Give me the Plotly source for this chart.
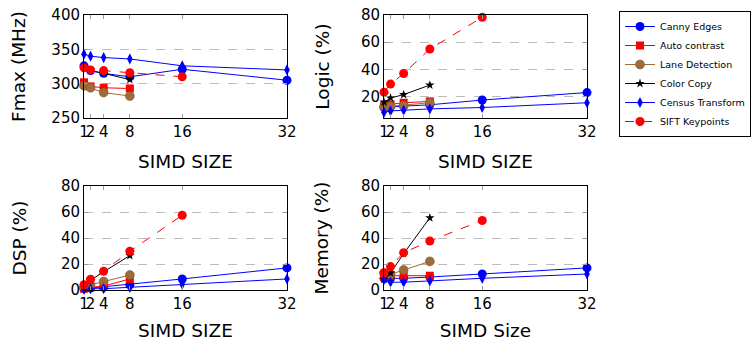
import plotly.graph_objects as go

simd = [1, 2, 4, 8, 16, 32]
simd8 = [1, 2, 4, 8]
simd16 = [1, 2, 4, 8, 16]

names = ["Canny Edges", "Auto contrast", "Lane Detection", "Color Copy", "Census Transform", "SIFT Keypoints"]

# Fmax (MHz)
fmax_canny = [326, 319, 315, 310, 321, 305]
fmax_auto = [302, 296, 294, 293]
fmax_lane = [297, 294, 287, 282]
fmax_color = [325, 319, 315, 306]
fmax_census = [343, 340, 338, 336, 326, 320]
fmax_sift = [323, 320, 319, 316, 310]

# Logic (%)
logic_canny = [12, 12.5, 13, 14, 17.5, 23]
logic_auto = [13, 14.3, 15.5, 16.5]
logic_lane = [12.5, 13, 13.5, 15.5]
logic_color = [16, 19, 21.5, 28.5]
logic_census = [8.5, 9.5, 10, 11, 12, 15.5]
logic_sift = [23.3, 29.2, 37, 55, 78.3]

# DSP (%)
dsp_canny = [1, 1.5, 2, 4, 8.5, 17]
dsp_auto = [1, 2, 3, 8.5]
dsp_lane = [2, 4, 6.5, 11.5]
dsp_color = [2, 7.5, 14, 26.5]
dsp_census = [0.5, 1, 1, 2, 4.4, 8.5]
dsp_sift = [4, 8.3, 14.5, 29.8, 57.5]

# Memory (%)
mem_canny = [9, 9, 9, 10, 12.3, 17]
mem_auto = [10, 11, 11, 11]
mem_lane = [13, 12, 15.4, 22]
mem_color = [8, 13, 28, 55.5]
mem_census = [8, 6, 6, 7, 9, 12.3]
mem_sift = [13.3, 18, 28.7, 37.7, 53.5]

BLUE = "#0000FF"
RED = "#FF0000"
BROWN = "#9E6B3A"

styles = {
    "Canny Edges": dict(line=dict(color=BLUE, width=1), marker=dict(symbol="circle", size=9, color=BLUE)),
    "Auto contrast": dict(line=dict(color=RED, width=1), marker=dict(symbol="square", size=8, color=RED)),
    "Lane Detection": dict(line=dict(color=BROWN, width=1), marker=dict(symbol="circle", size=9, color=BROWN, line=dict(color="#7a5028", width=0.5))),
    "Color Copy": dict(line=dict(color="black", width=1), marker=dict(symbol="star", size=7, color="black")),
    "Census Transform": dict(line=dict(color=BLUE, width=1), marker=dict(symbol="diamond-tall", size=8, color=BLUE)),
    "SIFT Keypoints": dict(line=dict(color=RED, width=1, dash="dash"), marker=dict(symbol="circle", size=9, color=RED)),
}

panels = [
    ("x", "y", [fmax_canny, fmax_auto, fmax_lane, fmax_color, fmax_census, fmax_sift]),
    ("x2", "y2", [logic_canny, logic_auto, logic_lane, logic_color, logic_census, logic_sift]),
    ("x3", "y3", [dsp_canny, dsp_auto, dsp_lane, dsp_color, dsp_census, dsp_sift]),
    ("x4", "y4", [mem_canny, mem_auto, mem_lane, mem_color, mem_census, mem_sift]),
]
xs_for = {"Canny Edges": simd, "Auto contrast": simd8, "Lane Detection": simd8,
          "Color Copy": simd8, "Census Transform": simd, "SIFT Keypoints": simd16}

fig = go.Figure()
for pi, (xa, ya, series) in enumerate(panels):
    for name, vals in zip(names, series):
        st = styles[name]
        fig.add_trace(go.Scatter(
            x=xs_for[name], y=vals, name=name, mode="lines+markers",
            line=st["line"], marker=st["marker"], xaxis=xa, yaxis=ya,
            showlegend=(pi == 0), cliponaxis=False, legendgroup=name,
        ))

FONT = "DejaVu Sans"
W, H = 756, 343
def px(a, b):
    return [a / W, b / W]
def py(top, bottom):
    return [1 - bottom / H, 1 - top / H]

xdoms = [px(84, 287), px(384, 587), px(84, 287), px(384, 587)]
ydoms = [py(15, 118), py(15, 118), py(186, 290), py(186, 290)]
yranges = [[250, 400], [4.3, 80], [0, 80], [0, 80]]
yticks = [[250, 300, 350, 400], [20, 40, 60, 80], [0, 20, 40, 60, 80], [0, 20, 40, 60, 80]]
ytitles = ["Fmax (MHz)", "Logic (%)", "DSP (%)", "Memory (%)"]
xtitles = ["SIMD SIZE", "SIMD SIZE", "SIMD SIZE", "SIMD Size"]
ystand = [20, 26, 29, 27]
xstand = [15, 15, 12, 12]

layout = {}
for i in range(4):
    sfx = "" if i == 0 else str(i + 1)
    layout["xaxis" + sfx] = dict(
        domain=xdoms[i], range=[1, 32], tickvals=simd, ticktext=[str(v) for v in simd],
        tickangle=0, automargin=True,
        showline=True, linecolor="black", linewidth=1, mirror="allticks",
        ticks="inside", ticklen=4, tickcolor="#999999", showgrid=False, zeroline=False,
        tickfont=dict(family=FONT, size=15, color="black"),
        title=dict(text=xtitles[i], font=dict(family=FONT, size=18.5, color="black"), standoff=xstand[i]),
        anchor="y" + sfx,
    )
    layout["yaxis" + sfx] = dict(
        domain=ydoms[i], range=yranges[i], tickvals=yticks[i], automargin=True,
        showline=True, linecolor="black", linewidth=1, mirror="allticks",
        ticks="inside", ticklen=4, tickcolor="#999999",
        showgrid=True, gridcolor="#bbbbbb", griddash="dash", gridwidth=1, zeroline=False,
        tickfont=dict(family=FONT, size=15, color="black"),
        title=dict(text=ytitles[i], font=dict(family=FONT, size=18.5, color="black"), standoff=ystand[i]),
        anchor="x" + sfx,
    )

fig.update_layout(
    width=W, height=H, margin=dict(l=0, r=0, t=0, b=0, autoexpand=False),
    paper_bgcolor="white", plot_bgcolor="white",
    font=dict(family=FONT, color="black"),
    legend=dict(x=619 / W, y=1 - 11 / H, xanchor="left", yanchor="top",
                bordercolor="black", borderwidth=1, bgcolor="white",
                font=dict(family=FONT, size=9.5, color="black"),
                itemwidth=30, tracegroupgap=0),
    **layout,
)

fig.write_html("out.html", config={"displayModeBar": False},
               post_script="document.body.style.margin='0';document.body.style.padding='0';")
